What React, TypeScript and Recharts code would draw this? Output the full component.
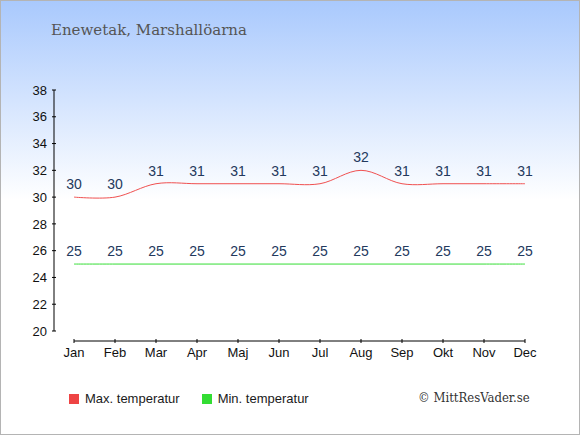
import { LineChart, Line, XAxis, YAxis, LabelList } from 'recharts';

const months = ['Jan', 'Feb', 'Mar', 'Apr', 'Maj', 'Jun', 'Jul', 'Aug', 'Sep', 'Okt', 'Nov', 'Dec'];
const maxTemp = [30, 30, 31, 31, 31, 31, 31, 32, 31, 31, 31, 31];
const minTemp = [25, 25, 25, 25, 25, 25, 25, 25, 25, 25, 25, 25];
const yTicks = [20, 22, 24, 26, 28, 30, 32, 34, 36, 38];

const data = months.map((month, i) => ({ month, max: maxTemp[i], min: minTemp[i] }));

const sans = '"Liberation Sans", Arial, sans-serif';
const serif = '"DejaVu Serif", Georgia, serif';

// cardinal spline (tension 0), same as d3.curveCardinal
function cardinalCurve(context: any) {
  const k = 1 / 6;
  let x0 = NaN, x1 = NaN, x2 = NaN, y0 = NaN, y1 = NaN, y2 = NaN;
  let pt = 0;
  let line = NaN;
  const bez = (x: number, y: number) => {
    context.bezierCurveTo(
      x1 + k * (x2 - x0), y1 + k * (y2 - y0),
      x2 + k * (x1 - x), y2 + k * (y1 - y),
      x2, y2
    );
  };
  return {
    areaStart() { line = 0; },
    areaEnd() { line = NaN; },
    lineStart() { x0 = x1 = x2 = y0 = y1 = y2 = NaN; pt = 0; },
    lineEnd() {
      if (pt === 2) context.lineTo(x2, y2);
      else if (pt === 3) bez(x1, y1);
      if (line || (line !== 0 && pt === 1)) context.closePath();
      line = 1 - line;
    },
    point(x: number, y: number) {
      x = +x; y = +y;
      switch (pt) {
        case 0: pt = 1; if (line) context.lineTo(x, y); else context.moveTo(x, y); break;
        case 1: pt = 2; x1 = x; y1 = y; break;
        case 2: pt = 3; bez(x, y); break;
        default: bez(x, y); break;
      }
      x0 = x1; x1 = x2; x2 = x;
      y0 = y1; y1 = y2; y2 = y;
    },
  };
}

const YTick = ({ x, y, payload }: any) => (
  <g>
    <line x1={x - 2} x2={x + 2} y1={y} y2={y} stroke="#000" />
    <text x={x - 7} y={y} dy="0.36em" textAnchor="end" fontSize={13} fontFamily={sans} fill="#111">
      {payload.value}
    </text>
  </g>
);

const XTick = ({ x, y, payload }: any) => (
  <g>
    <line x1={x} x2={x} y1={y - 2} y2={y + 2} stroke="#000" />
    <text x={x} y={y + 16} textAnchor="middle" fontSize={13} fontFamily={sans} fill="#111">
      {payload.value}
    </text>
  </g>
);

export default function App() {
  return (
    <div
      style={{
        position: 'fixed',
        left: 0,
        top: 0,
        width: 580,
        height: 435,
        boxSizing: 'border-box',
        border: '1px solid #b4b4b4',
        background: 'linear-gradient(to bottom, #a9c9fd 0%, #ffffff 46%, #ffffff 100%)',
        overflow: 'hidden',
      }}
    >
      <div
        style={{
          position: 'absolute',
          left: 50,
          top: 20,
          fontFamily: serif,
          fontSize: 15,
          color: '#555',
        }}
      >
        Enewetak, Marshallöarna
      </div>

      <div style={{ position: 'absolute', left: -1, top: -1 }}>
        <LineChart width={580} height={435} data={data} margin={{ top: 90, right: 55, bottom: 64, left: 14 }}>
          <YAxis
            yAxisId="b"
            width={40}
            domain={[20, 38]}
            ticks={yTicks}
            interval={0}
            tickSize={0}
            tickMargin={0}
            tickLine={false}
            axisLine={{ stroke: '#000' }}
            tick={<YTick />}
          />
          <YAxis yAxisId="a" width={20} domain={[20, 38]} tick={false} axisLine={false} tickLine={false} />
          <XAxis
            xAxisId="b"
            dataKey="month"
            height={30}
            interval={0}
            tickSize={0}
            tickMargin={0}
            tickLine={false}
            axisLine={{ stroke: '#000' }}
            tick={<XTick />}
          />
          <XAxis xAxisId="a" dataKey="month" height={10} tick={false} axisLine={false} tickLine={false} />
          <Line
            xAxisId="b"
            yAxisId="b"
            dataKey="max"
            type={cardinalCurve as any}
            stroke="#f05050"
            strokeWidth={1}
            dot={false}
            activeDot={false}
            isAnimationActive={false}
          >
            <LabelList dataKey="max" position="top" offset={8} fill="#23395d" fontSize={14} fontFamily={sans} />
          </Line>
          <Line
            xAxisId="b"
            yAxisId="b"
            dataKey="min"
            type={cardinalCurve as any}
            stroke="#33dd33"
            strokeWidth={1}
            dot={false}
            activeDot={false}
            isAnimationActive={false}
          >
            <LabelList dataKey="min" position="top" offset={8} fill="#23395d" fontSize={14} fontFamily={sans} />
          </Line>
        </LineChart>
      </div>

      <div
        style={{
          position: 'absolute',
          left: 68,
          top: 390,
          display: 'flex',
          alignItems: 'center',
          fontFamily: sans,
          fontSize: 13,
          color: '#1a1a1a',
        }}
      >
        <span style={{ width: 10, height: 10, background: '#ee4444', marginRight: 6, display: 'inline-block' }} />
        <span style={{ marginRight: 22 }}>Max. temperatur</span>
        <span style={{ width: 10, height: 10, background: '#33dd33', marginRight: 6, display: 'inline-block' }} />
        <span>Min. temperatur</span>
      </div>

      <div
        style={{
          position: 'absolute',
          left: 417,
          top: 389,
          fontFamily: serif,
          fontStretch: 'condensed',
          fontSize: 13,
          color: '#333',
        }}
      >
        © MittResVader.se
      </div>
    </div>
  );
}
